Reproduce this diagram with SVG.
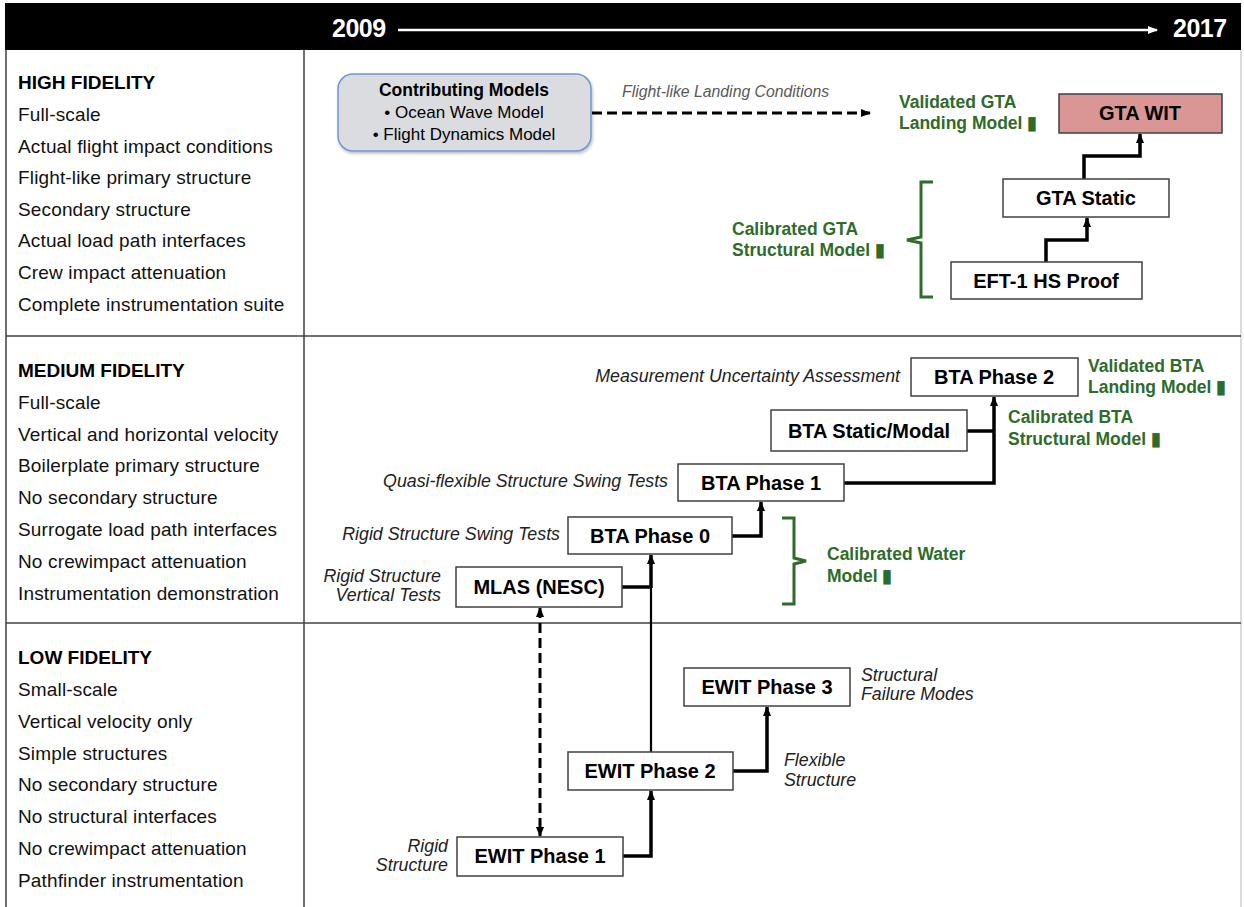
<svg xmlns="http://www.w3.org/2000/svg" width="1244" height="907" viewBox="0 0 1244 907">
<style>
.lt{font-family:"Liberation Sans",Arial,sans-serif;font-size:19px;letter-spacing:0.15px;fill:#111}
.lh{font-family:"Liberation Sans",Arial,sans-serif;font-size:19px;font-weight:bold;fill:#000}
.box{fill:#fff;stroke:#404040;stroke-width:1.5}
.bt{font-family:"Liberation Sans",Arial,sans-serif;font-size:20px;font-weight:bold;fill:#000;text-anchor:middle}
.it{font-family:"Liberation Sans",Arial,sans-serif;font-size:17.8px;font-style:italic;fill:#222}
.gr{font-family:"Liberation Sans",Arial,sans-serif;font-size:17.5px;font-weight:bold;fill:#2f6b2a}
.con{fill:none;stroke:#000;stroke-width:3.5}
.thin{fill:none;stroke:#000;stroke-width:2.2}
.dash{fill:none;stroke:#000;stroke-width:3;stroke-dasharray:10 5}
.brace{fill:none;stroke:#2f6b2a;stroke-width:3}
.grid{stroke:#404040;stroke-width:1.5}
</style>
<defs>
<marker id="ah" viewBox="0 0 10 10" refX="9" refY="5" markerUnits="userSpaceOnUse" markerWidth="10" markerHeight="10" orient="auto-start-reverse">
<path d="M0,1 L10,5 L0,9 z" fill="#000"/>
</marker>
<marker id="wh" viewBox="0 0 10 10" refX="9" refY="5" markerUnits="userSpaceOnUse" markerWidth="10" markerHeight="10" orient="auto">
<path d="M0,1 L10,5 L0,9 z" fill="#fff"/>
</marker>
<filter id="sh" x="-10%" y="-10%" width="130%" height="140%">
<feDropShadow dx="1" dy="2" stdDeviation="1.5" flood-color="#000" flood-opacity="0.25"/>
</filter>
</defs>
<rect width="1244" height="907" fill="#fff"/>

<!-- header -->
<g id="header">
<rect x="5" y="3" width="1236" height="47" fill="#000"/>
<text x="332" y="37" font-family="Liberation Sans,Arial,sans-serif" font-size="25" font-weight="bold" fill="#fff" letter-spacing="-0.5">2009</text>
<text x="1173" y="37" font-family="Liberation Sans,Arial,sans-serif" font-size="25" font-weight="bold" fill="#fff" letter-spacing="-0.5">2017</text>
<line x1="398" y1="30" x2="1157" y2="30" stroke="#fff" stroke-width="2.5" marker-end="url(#wh)"/>
</g>

<!-- grid -->
<g id="grid">
<line class="grid" x1="6" y1="50" x2="6" y2="907"/>
<line class="grid" x1="304" y1="50" x2="304" y2="907"/>
<line x1="1241" y1="50" x2="1241" y2="907" stroke="#d0d0d0" stroke-width="1.5"/>
<line class="grid" x1="6" y1="336" x2="1241" y2="336"/>
<line class="grid" x1="6" y1="623" x2="1241" y2="623"/>
</g>

<!-- left column -->
<g id="high-text">
<text class="lh" x="18" y="89">HIGH FIDELITY</text>
<text class="lt" x="18" y="121">Full-scale</text>
<text class="lt" x="18" y="153">Actual flight impact conditions</text>
<text class="lt" x="18" y="184">Flight-like primary structure</text>
<text class="lt" x="18" y="216">Secondary structure</text>
<text class="lt" x="18" y="247">Actual load path interfaces</text>
<text class="lt" x="18" y="279">Crew impact attenuation</text>
<text class="lt" x="18" y="311">Complete instrumentation suite</text>
</g>
<g id="medium-text">
<text class="lh" x="18" y="377">MEDIUM FIDELITY</text>
<text class="lt" x="18" y="409">Full-scale</text>
<text class="lt" x="18" y="441">Vertical and horizontal velocity</text>
<text class="lt" x="18" y="472">Boilerplate primary structure</text>
<text class="lt" x="18" y="504">No secondary structure</text>
<text class="lt" x="18" y="536">Surrogate load path interfaces</text>
<text class="lt" x="18" y="568">No crewimpact attenuation</text>
<text class="lt" x="18" y="600">Instrumentation demonstration</text>
</g>
<g id="low-text">
<text class="lh" x="18" y="664">LOW FIDELITY</text>
<text class="lt" x="18" y="696">Small-scale</text>
<text class="lt" x="18" y="728">Vertical velocity only</text>
<text class="lt" x="18" y="760">Simple structures</text>
<text class="lt" x="18" y="791">No secondary structure</text>
<text class="lt" x="18" y="823">No structural interfaces</text>
<text class="lt" x="18" y="855">No crewimpact attenuation</text>
<text class="lt" x="18" y="887">Pathfinder instrumentation</text>
</g>

<!-- connectors -->
<g id="connectors">
<line class="dash" x1="592" y1="113" x2="870" y2="113" marker-end="url(#ah)"/>
<polyline class="con" points="1084,179 1084,156 1140,156 1140,134" marker-end="url(#ah)"/>
<polyline class="con" points="1046,262 1046,240 1087,240 1087,218" marker-end="url(#ah)"/>
<polyline class="con" points="844,483 994,483 994,397" marker-end="url(#ah)"/>
<line class="con" x1="967" y1="431" x2="994" y2="431"/>
<polyline class="con" points="732,536 761,536 761,502" marker-end="url(#ah)"/>
<line class="con" x1="622" y1="587" x2="651" y2="587"/>
<line class="con" x1="651" y1="588" x2="651" y2="555" marker-end="url(#ah)"/>
<line class="thin" x1="651" y1="752" x2="651" y2="586"/>
<polyline class="con" points="733,771 767,771 767,707" marker-end="url(#ah)"/>
<polyline class="con" points="623,856 651,856 651,791" marker-end="url(#ah)"/>
<line class="dash" x1="540" y1="608" x2="540" y2="836" marker-start="url(#ah)" marker-end="url(#ah)"/>
<path class="brace" d="M933,182 L921,182 L921,237 L907,240 L921,243 L921,297 L933,297"/>
<path class="brace" d="M782,518 L794,518 L794,558 L806,561 L794,564 L794,604 L782,604"/>
</g>

<!-- nodes -->
<g id="contributing-models">
<rect x="338" y="74" width="253" height="77" rx="15" fill="#dadcdf" stroke="#6f96d0" stroke-width="1.5" filter="url(#sh)"/>
<text x="464" y="96" font-family="Liberation Sans,Arial,sans-serif" font-size="17.5" font-weight="bold" text-anchor="middle" fill="#000">Contributing Models</text>
<text x="464" y="118" font-family="Liberation Sans,Arial,sans-serif" font-size="17" text-anchor="middle" fill="#000">•  Ocean Wave Model</text>
<text x="464" y="140" font-family="Liberation Sans,Arial,sans-serif" font-size="17" text-anchor="middle" fill="#000">• Flight Dynamics Model</text>
</g>
<g id="flight-like-label">
<text x="622" y="97" font-family="Liberation Sans,Arial,sans-serif" font-size="15.8" font-style="italic" fill="#595959">Flight-like Landing Conditions</text>
</g>
<g id="validated-gta">
<text class="gr" x="899" y="108">Validated GTA</text>
<text class="gr" x="899" y="129">Landing Model ▮</text>
</g>
<g id="gta-wit">
<rect x="1059" y="94" width="163" height="39" fill="#d99694" stroke="#404040" stroke-width="1.5"/>
<text class="bt" x="1140" y="120">GTA WIT</text>
</g>
<g id="gta-static">
<rect class="box" x="1003" y="179" width="166" height="38"/>
<text class="bt" x="1086" y="205">GTA Static</text>
</g>
<g id="eft1">
<rect class="box" x="951" y="262" width="191" height="37"/>
<text class="bt" x="1046" y="288">EFT-1 HS Proof</text>
</g>
<g id="calibrated-gta">
<text class="gr" x="732" y="235">Calibrated GTA</text>
<text class="gr" x="732" y="256">Structural Model ▮</text>
</g>

<g id="bta-phase2">
<text class="it" x="900" y="382" text-anchor="end">Measurement Uncertainty Assessment</text>
<rect class="box" x="911" y="358" width="167" height="38"/>
<text class="bt" x="994" y="384">BTA Phase 2</text>
</g>
<g id="validated-bta">
<text class="gr" x="1088" y="372">Validated BTA</text>
<text class="gr" x="1088" y="393">Landing Model ▮</text>
</g>
<g id="bta-static">
<rect class="box" x="771" y="410" width="196" height="41"/>
<text class="bt" x="869" y="438">BTA Static/Modal</text>
</g>
<g id="calibrated-bta">
<text class="gr" x="1008" y="423">Calibrated BTA</text>
<text class="gr" x="1008" y="445">Structural Model ▮</text>
</g>
<g id="bta-phase1">
<text class="it" x="668" y="487" text-anchor="end">Quasi-flexible Structure Swing Tests</text>
<rect class="box" x="678" y="464" width="166" height="37"/>
<text class="bt" x="761" y="490">BTA Phase 1</text>
</g>
<g id="bta-phase0">
<text class="it" x="560" y="540" text-anchor="end">Rigid Structure Swing Tests</text>
<rect class="box" x="568" y="517" width="164" height="37"/>
<text class="bt" x="650" y="543">BTA Phase 0</text>
</g>
<g id="mlas">
<text class="it" x="441" y="582" text-anchor="end">Rigid Structure</text>
<text class="it" x="441" y="601" text-anchor="end">Vertical Tests</text>
<rect class="box" x="456" y="567" width="166" height="40"/>
<text class="bt" x="539" y="594">MLAS (NESC)</text>
</g>
<g id="calibrated-water">
<text class="gr" x="827" y="560">Calibrated Water</text>
<text class="gr" x="827" y="582">Model ▮</text>
</g>

<g id="ewit3">
<rect class="box" x="684" y="668" width="166" height="38"/>
<text class="bt" x="767" y="694">EWIT Phase 3</text>
<text class="it" x="861" y="681">Structural</text>
<text class="it" x="861" y="700">Failure Modes</text>
</g>
<g id="ewit2">
<rect class="box" x="568" y="752" width="165" height="38"/>
<text class="bt" x="650" y="778">EWIT Phase 2</text>
<text class="it" x="784" y="766">Flexible</text>
<text class="it" x="784" y="786">Structure</text>
</g>
<g id="ewit1">
<text class="it" x="448" y="852" text-anchor="end">Rigid</text>
<text class="it" x="448" y="871" text-anchor="end">Structure</text>
<rect class="box" x="457" y="837" width="166" height="39"/>
<text class="bt" x="540" y="863">EWIT Phase 1</text>
</g>
</svg>
